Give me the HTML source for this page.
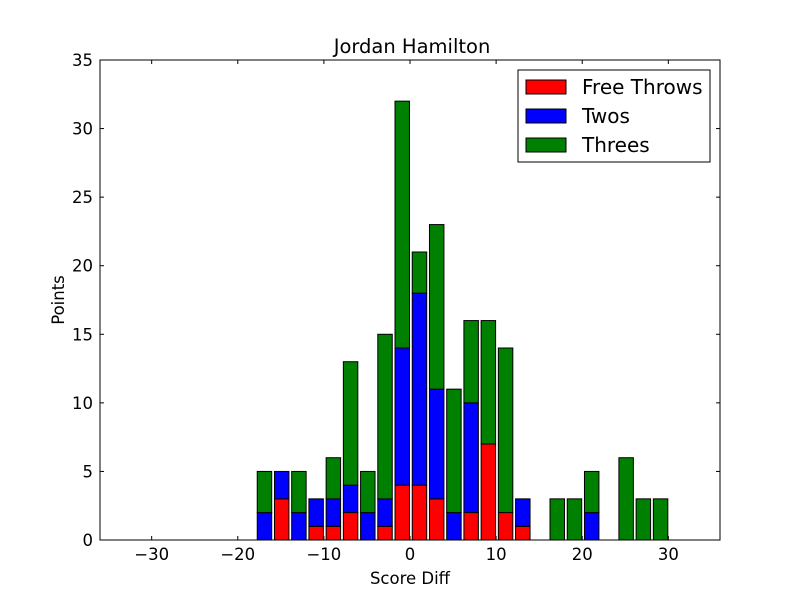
<!DOCTYPE html>
<html><head><meta charset="utf-8"><style>body{margin:0;background:#fff}svg{display:block;font-family:"DejaVu Sans","Liberation Sans",sans-serif}</style></head>
<body>
<svg id="chart" width="800" height="600" xmlns="http://www.w3.org/2000/svg">
<rect width="800" height="600" fill="#fff"/>
<g id="bars"></g>
<g id="axes"></g>
<text x="412" y="53" font-size="19.5" text-anchor="middle">Jordan Hamilton</text>
<text x="410" y="584" font-size="16.5" text-anchor="middle">Score Diff</text>
<text x="64" y="300" font-size="16.5" text-anchor="middle" transform="rotate(-90 64 300)">Points</text>
<g>
<rect x="518" y="70" width="192" height="92" fill="#fff" stroke="#000" stroke-width="1"/>
<g><rect x="526" y="80" width="40" height="14" fill="#f00" stroke="#000"/><text x="582" y="94" font-size="20">Free Throws</text></g>
<g><rect x="526" y="109" width="40" height="14" fill="#00f" stroke="#000"/><text x="582" y="123" font-size="20">Twos</text></g>
<g><rect x="526" y="138" width="40" height="14" fill="#008000" stroke="#000"/><text x="582" y="152" font-size="20">Threes</text></g>
</g>
</svg>
<script>
const bins = [-36,-34,-32,-30,-28,-26,-24,-22,-20,-18,-16,-14,-12,-10,-8,-6,-4,-2,0,2,4,6,8,10,12,14,16,18,20,22,24,26,28,30,32,34];
const freeThrows = [0,0,0,0,0,0,0,0,0,0,3,0,1,1,2,0,1,4,4,3,0,2,7,2,1,0,0,0,0,0,0,0,0,0,0,0];
const twos = [0,0,0,0,0,0,0,0,0,2,2,2,2,2,2,2,2,10,14,8,2,8,0,0,2,0,0,0,2,0,0,0,0,0,0,0];
const threes = [0,0,0,0,0,0,0,0,0,3,0,3,0,3,9,3,12,18,3,12,9,6,9,12,0,0,3,3,3,0,6,3,3,0,0,0];
const xTicks = [-30,-20,-10,0,10,20,30];
const yTicks = [0,5,10,15,20,25,30,35];
const L=100,R=720,T=60,B=540,xmin=-36,xmax=36,ymax=35;
const X=v=>L+(v-xmin)/(xmax-xmin)*(R-L);
const Y=v=>B-v/ymax*(B-T);
const NS="http://www.w3.org/2000/svg";
const bars=document.getElementById('bars'), axes=document.getElementById('axes');
function mk(tag,attrs,parent){const e=document.createElementNS(NS,tag);for(const k in attrs)e.setAttribute(k,attrs[k]);parent.appendChild(e);return e;}
const series=[[freeThrows,'#f00','free-throws'],[twos,'#00f','twos'],[threes,'#008000','threes']];
bins.forEach((b,i)=>{
  let base=0;
  series.forEach(([arr,col,nm])=>{
    const v=arr[i];
    const r=mk('rect',{x:X(b+0.26),width:X(b+1.94)-X(b+0.26),y:Y(base+v),height:Y(base)-Y(base+v),fill:col,stroke:'#000','stroke-width':1},bars);
    
    
    base+=v;
  });
});
mk('rect',{x:L,y:T,width:R-L,height:B-T,fill:'none',stroke:'#000','stroke-width':1},axes);
xTicks.forEach(t=>{
  const x=X(t);
  mk('line',{x1:x,x2:x,y1:B,y2:B-4,stroke:'#000'},axes);
  mk('line',{x1:x,x2:x,y1:T,y2:T+4,stroke:'#000'},axes);
  const tx=mk('text',{x:x,y:B+20,'font-size':16.5,'text-anchor':'middle'},axes);
  tx.textContent=(t<0?'\u2212'+(-t):t);
  
  
});
yTicks.forEach(t=>{
  const y=Y(t);
  mk('line',{x1:L,x2:L+4,y1:y,y2:y,stroke:'#000'},axes);
  mk('line',{x1:R,x2:R-4,y1:y,y2:y,stroke:'#000'},axes);
  const tx=mk('text',{x:L-7,y:y+6,'font-size':16.5,'text-anchor':'end'},axes);
  tx.textContent=t;
  
  
});
</script>
</body></html>
